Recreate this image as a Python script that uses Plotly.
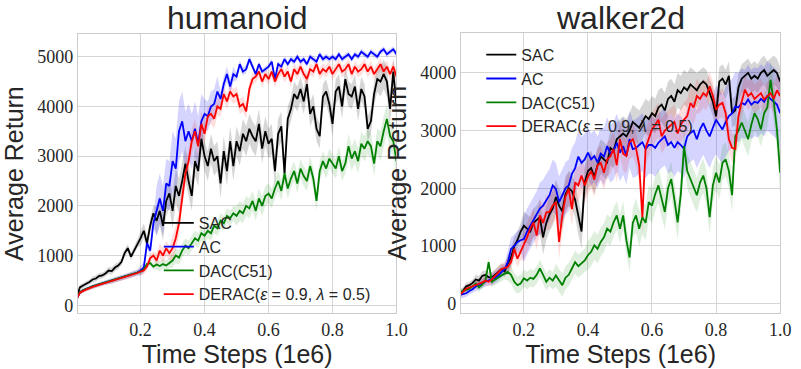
import numpy as np
import plotly.graph_objects as go

# ---------------- data ----------------
steps = [i / 100 for i in range(101)]  # time steps (1e6)

series_names = ["SAC", "AC", "DAC(C51)", "DERAC(<i>ε</i> = 0.9, <i>λ</i> = 0.5)"]
series_colors = ["#000000", "#0000ff", "#008000", "#ff0000"]
band_colors = ["rgba(0,0,0,0.16)", "rgba(0,0,255,0.17)", "rgba(0,128,0,0.13)", "rgba(255,0,0,0.13)"]

# humanoid
hum_sac = [150, 360, 400, 430, 470, 520, 540, 590, 600, 640,
           700, 690, 760, 800, 870, 1050, 1150, 980, 1100, 1250,
           1350, 1500, 1250, 1600, 1850, 1700, 1900, 1600, 2100, 2250,
           1900, 2400, 2200, 2500, 2850, 2500, 2200, 2900, 2700, 3350,
           3000, 2800, 3150, 2900, 3000, 2450, 3100, 2700, 3300, 2800,
           3300, 3100, 3450, 3300, 3550, 3400, 3300, 3650, 3150, 3500,
           3250, 3350, 2700, 3450, 3600, 2650, 3750, 3950, 4250, 4150,
           4350, 4100, 4450, 3850, 4000, 3550, 3400, 4200, 4300, 4050,
           3650, 4300, 4400, 4000, 4550, 4250, 4200, 4400, 3950, 4350,
           4200, 3550, 3700, 4250, 4550, 4500, 4650, 4500, 3950, 4700,
           4000]
hum_ac = [120, 260, 300, 330, 360, 380, 400, 420, 440, 460,
          480, 490, 510, 530, 550, 570, 590, 610, 640, 660,
          700, 760, 1250, 1100, 1650, 1900, 2150, 1900, 2450, 2400,
          2900, 2750, 3500, 3700, 3300, 3500, 3300, 3550, 3250, 3700,
          3850, 3800, 4000, 4050, 4300, 4150, 4450, 4650, 4400, 4650,
          4600, 4850, 4700, 4750, 4950, 4800, 4650, 4850, 4700, 4750,
          4800, 4900, 4550, 4850, 4800, 4950, 4850, 4950, 4900, 5000,
          4900, 4950, 4850, 5000, 4950, 4900, 5050, 4950, 5000, 4950,
          5000, 4950, 5050, 4950, 5000, 5050, 4950, 5050, 5000, 5100,
          5050, 5000, 5100, 5050, 5000, 5100, 5150, 5050, 5100, 5150,
          5050]
hum_dac = [140, 260, 300, 330, 360, 380, 400, 420, 440, 460,
           480, 490, 510, 530, 550, 570, 590, 610, 630, 660,
           680, 720, 830, 850, 780, 820, 790, 830, 800, 850,
           900, 1000, 960, 1100, 1200, 1150, 1250, 1350, 1300, 1450,
           1400, 1500, 1450, 1600, 1550, 1700, 1650, 1800, 1750, 1850,
           1800, 1900, 1850, 2000, 1950, 2100, 1900, 2150, 2000, 2200,
           2250, 2150, 2350, 2500, 2300, 2650, 2350, 2550, 2700, 2450,
           2750, 2600, 2500, 2800, 2550, 2100, 2700, 2900, 2750, 2950,
           2850, 2750, 3000, 2700, 2850, 3200, 2950, 3100, 2900, 3250,
           3150, 3300, 3200, 2850, 3300, 3200, 3500, 3750, 3400, 3300,
           2900]
hum_derac = [130, 250, 290, 320, 350, 370, 390, 410, 430, 450,
             470, 480, 500, 520, 540, 560, 580, 600, 620, 650,
             680, 700, 780, 950, 1000, 900, 1100, 1000, 1150, 1050,
             1150, 1350, 1650, 2200, 2650, 2900, 3300, 3500, 3200, 3650,
             3450, 3800, 3850, 3750, 4000, 3950, 4250, 4100, 4300, 4200,
             4250, 4000, 4050, 3900, 4350, 4550, 4600, 4700, 4500, 4650,
             4550, 4700, 4500, 4650, 4750, 4600, 4700, 4500, 4750, 4650,
             4800, 4650, 4550, 4750, 4700, 4850, 4650, 4750, 4700, 4800,
             4650, 4750, 4850, 4700, 4750, 4850, 4650, 4800, 4700, 4750,
             4850, 4700, 4800, 4650, 4750, 4850, 4700, 4800, 4650, 4800,
             4600]
# band half-widths, one value per 0.05 of time steps
hum_sac_sd = [50, 60, 70, 80, 150, 300, 350, 300, 300, 300, 300, 300, 300, 250, 250, 250, 250, 250, 250, 300, 300]
hum_ac_sd = [40, 40, 50, 60, 100, 500, 600, 550, 300, 150, 80, 60, 60, 60, 60, 60, 60, 60, 60, 60, 60]
hum_dac_sd = [40, 40, 50, 50, 60, 100, 150, 150, 150, 150, 200, 200, 200, 200, 200, 200, 200, 250, 250, 300, 300]
hum_derac_sd = [40, 40, 50, 50, 80, 150, 250, 250, 200, 150, 150, 120, 120, 120, 120, 120, 120, 120, 120, 120, 120]

# walker2d
wal_sac = [180, 220, 300, 320, 360, 420, 400, 480, 500, 460,
           450, 500, 560, 600, 560, 700, 800, 1000, 1100, 1250,
           1350, 1300, 1250, 1400, 1450, 1500, 1150, 1400, 1550, 1650,
           1850, 1700, 1600, 1900, 2000, 1950, 1800, 1500, 1250, 2100,
           2300, 2350, 2200, 2400, 2550, 2500, 2450, 2700, 2650, 2850,
           2900, 2950, 2900, 3000, 3150, 3100, 3050, 3150, 3250, 3200,
           3300, 3250, 3400, 3450, 3350, 3550, 3600, 3500, 3700, 3650,
           3750, 3700, 3800, 3750, 3700, 3800, 3850, 3800, 3650, 3500,
           3250, 3850, 3900, 3800, 3950, 3300, 3350, 3750, 3900, 3950,
           4000, 3900, 3950, 3900, 4000, 4050, 3950, 4000, 4050, 4000,
           3850]
wal_ac = [150, 160, 180, 220, 250, 300, 320, 350, 380, 400,
          420, 450, 490, 550, 600, 720, 950, 1000, 1070, 1100,
          1120, 1250, 1350, 1450, 1550, 1650, 1700, 1800, 1880, 2050,
          1990, 1760, 1880, 2000, 2050, 2250, 2350, 2550, 2440, 2500,
          2620, 2500, 2560, 2450, 2600, 2550, 2730, 2600, 2650, 2790,
          2620, 2730, 2560, 2850, 2680, 2700, 2750, 2800, 2680, 2750,
          2750, 2700, 2790, 2850, 2900, 2750, 2800, 2700, 2800, 2750,
          2680, 2900, 2960, 3000, 2850, 3020, 3130, 3000, 2900, 3050,
          3190, 3100, 3020, 3150, 3250, 3300, 3420, 3400, 3480, 3450,
          3540, 3450, 3500, 3480, 3550, 3500, 3600, 3550, 3500, 3450,
          3300]
wal_dac = [200, 220, 250, 260, 300, 350, 280, 330, 400, 720,
           380, 420, 450, 490, 520, 550, 500, 380, 320, 350,
           440, 400, 450, 430, 500, 610, 500, 380, 450, 400,
           490, 400, 320, 450, 500, 610, 720, 650, 700, 750,
           840, 900, 1010, 950, 1070, 1150, 1300, 1250, 1410, 1530,
           1300, 1530, 1100, 800, 1400, 1530, 1300, 1500, 1400, 1760,
           1700, 1900, 2050, 1800, 1590, 2000, 2160, 1800, 1410, 1900,
           2730, 2300, 2160, 2000, 1880, 2100, 2220, 2000, 1500, 2050,
           2270, 2100, 2440, 2500, 2300, 1880, 2900, 3000, 3140, 3000,
           2850, 3100, 3300, 3200, 3020, 3300, 3400, 3880, 3500, 3020,
           2270]
wal_derac = [150, 200, 260, 280, 300, 330, 350, 370, 400, 380,
             420, 480, 550, 600, 620, 640, 720, 950, 780, 900,
             1010, 1150, 1300, 1410, 1180, 1530, 1400, 1580, 1590, 1700,
             1760, 1070, 1530, 1850, 1990, 1640, 2100, 2050, 2220, 2050,
             2200, 2300, 2150, 2400, 2440, 2270, 2500, 2550, 2680, 2400,
             2850, 2600, 2560, 2800, 2850, 2700, 2400, 1500, 2700, 2850,
             3020, 3100, 3190, 2900, 3000, 3050, 3100, 3150, 2950, 3100,
             3190, 3250, 3480, 3400, 3600, 3550, 3650, 3600, 3770, 3600,
             3360, 3450, 3480, 3300, 2850, 2700, 2680, 3250, 3500, 3710,
             3600, 3650, 3550, 3600, 3650, 3540, 3600, 3650, 3550, 3700,
             3600]
wal_sac_sd = [60, 80, 100, 150, 250, 300, 300, 300, 300, 300, 300, 300, 300, 300, 300, 250, 250, 250, 250, 250, 250]
wal_ac_sd = [60, 80, 100, 200, 400, 450, 450, 450, 450, 500, 500, 500, 500, 500, 500, 550, 600, 600, 600, 600, 600]
wal_dac_sd = [60, 80, 100, 150, 150, 150, 200, 200, 250, 250, 250, 300, 300, 300, 300, 300, 300, 300, 300, 350, 400]
wal_derac_sd = [60, 80, 100, 150, 250, 300, 300, 300, 300, 300, 300, 300, 300, 300, 300, 250, 250, 250, 250, 250, 250]

hum_means = [hum_sac, hum_ac, hum_dac, hum_derac]
hum_sds = [hum_sac_sd, hum_ac_sd, hum_dac_sd, hum_derac_sd]
wal_means = [wal_sac, wal_ac, wal_dac, wal_derac]
wal_sds = [wal_sac_sd, wal_ac_sd, wal_dac_sd, wal_derac_sd]

x_ticks = [0.2, 0.4, 0.6, 0.8, 1.0]
x_ticklabels = ["0.2", "0.4", "0.6", "0.8", "1.0"]
hum_yticks = [0, 1000, 2000, 3000, 4000, 5000]
wal_yticks = [0, 1000, 2000, 3000, 4000]

# ---------------- figure ----------------
fig = go.Figure()
xs = np.array(steps)


def add_panel(means, sds, xa, ya, legend):
    # bands first
    for k, (m, sd) in enumerate(zip(means, sds)):
        m = np.array(m, dtype=float)
        s = np.repeat(np.array(sd, dtype=float), 5)[: len(m)]
        fig.add_trace(go.Scatter(
            x=np.concatenate([xs, xs[::-1]]),
            y=np.concatenate([m + s, (m - s)[::-1]]),
            fill="toself", fillcolor=band_colors[k], line=dict(width=0),
            mode="lines", hoverinfo="skip", showlegend=False,
            xaxis=xa, yaxis=ya))
    for k, m in enumerate(means):
        fig.add_trace(go.Scatter(
            x=xs, y=m, mode="lines", name=series_names[k],
            line=dict(color=series_colors[k], width=1.8),
            xaxis=xa, yaxis=ya, legend=legend))


add_panel(hum_means, hum_sds, "x", "y", "legend")
add_panel(wal_means, wal_sds, "x2", "y2", "legend2")

W, H = 801, 369
grid = "#d6d6d6"
tickfont = dict(family="Liberation Serif", size=18, color="#262626")
titlefont = dict(family="Liberation Sans", size=25, color="#262626")

common_x = dict(range=[0.004, 1.0], tickvals=x_ticks, ticktext=x_ticklabels,
                showgrid=True, gridcolor=grid, gridwidth=1, zeroline=False,
                showline=True, linecolor="#cccccc", linewidth=1.3, mirror=True,
                ticks="", tickfont=tickfont,
                title=dict(text="Time Steps (1e6)", font=titlefont, standoff=2))
common_y = dict(showgrid=True, gridcolor=grid, gridwidth=1, zeroline=False,
                showline=True, linecolor="#cccccc", linewidth=1.3, mirror=True,
                ticks="", tickfont=tickfont, tickformat="d",
                title=dict(text="Average Return", font=titlefont, standoff=6))

legend_common = dict(bgcolor="rgba(0,0,0,0)", borderwidth=0,
                     font=dict(family="Liberation Sans", size=16, color="#262626"),
                     tracegroupgap=0, itemwidth=30)

fig.update_layout(
    width=W, height=H,
    margin=dict(l=0, r=0, t=0, b=0),
    paper_bgcolor="white", plot_bgcolor="white",
    xaxis=dict(domain=[79 / W, 402 / W], anchor="y", **common_x),
    yaxis=dict(domain=[1 - 315 / H, 1 - 34 / H], anchor="x", range=[-160, 5460],
               tickvals=hum_yticks, **common_y),
    xaxis2=dict(domain=[467.5 / W, 791 / W], anchor="y2", **common_x),
    yaxis2=dict(domain=[1 - 315 / H, 1 - 33 / H], anchor="x2", range=[-167, 4695],
                tickvals=wal_yticks, **common_y),
    legend=dict(x=161 / W, y=1 - 207 / H, xanchor="left", yanchor="top", **legend_common),
    legend2=dict(x=488 / W, y=1 - 38 / H, xanchor="left", yanchor="top", **legend_common),
    showlegend=True,
    annotations=[
        dict(text="humanoid", x=(79 + 402) / 2 / W, y=1 - 18 / H, xref="paper", yref="paper",
             showarrow=False, xanchor="center", yanchor="middle",
             font=dict(family="Liberation Sans", size=32, color="#262626")),
        dict(text="walker2d", x=(467.5 + 791) / 2 / W, y=1 - 18 / H, xref="paper", yref="paper",
             showarrow=False, xanchor="center", yanchor="middle",
             font=dict(family="Liberation Sans", size=32, color="#262626")),
    ],
)

fig.write_html("out.html")
